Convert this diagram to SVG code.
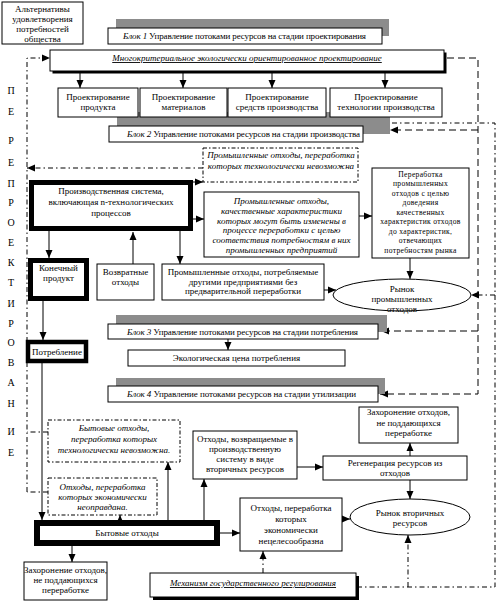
<svg xmlns="http://www.w3.org/2000/svg" width="500" height="601" viewBox="0 0 500 601">
<defs>
<marker id="ah" viewBox="0 0 8 8" refX="8" refY="4" markerWidth="8" markerHeight="8" markerUnits="userSpaceOnUse" orient="auto"><path d="M0,0.5 L8,4 L0,7.5 z" fill="#000"/></marker>
</defs>
<style>
text{font-family:"Liberation Serif","Times New Roman",serif;font-size:9px;fill:#000}
.c{text-anchor:middle}
.i{font-style:italic}
.u{text-decoration:underline}
.b{fill:#fff;stroke:#000;stroke-width:1}
.tk{fill:#fff;stroke:#000}
.sh{fill:#8c8c8c}
.ds{fill:#fff;stroke:#000;stroke-width:1;stroke-dasharray:4 2 1.5 2}
.ln{fill:none;stroke:#000;stroke-width:1}
.dd{fill:none;stroke:#000;stroke-width:1;stroke-dasharray:5 3 1.5 3}
.da{fill:none;stroke:#000;stroke-width:1;stroke-dasharray:7 4}
.sm{font-size:7.6px;letter-spacing:0.3px}
.v{font-size:10px;text-anchor:middle}
</style>
<rect width="500" height="601" fill="#fff"/>

<g id="letters">
<text class="v" x="11" y="94">П</text>
<text class="v" x="11" y="115">Е</text>
<text class="v" x="11" y="144">Р</text>
<text class="v" x="11" y="166">Е</text>
<text class="v" x="11" y="187">П</text>
<text class="v" x="11" y="206">Р</text>
<text class="v" x="11" y="226">О</text>
<text class="v" x="11" y="246">Е</text>
<text class="v" x="11" y="266">К</text>
<text class="v" x="11" y="286">Т</text>
<text class="v" x="11" y="307">И</text>
<text class="v" x="11" y="327">Р</text>
<text class="v" x="11" y="346">О</text>
<text class="v" x="11" y="366">В</text>
<text class="v" x="11" y="386">А</text>
<text class="v" x="11" y="407">Н</text>
<text class="v" x="11" y="435">И</text>
<text class="v" x="11" y="456">Е</text>
</g>

<g id="block2-shadow"><rect class="sh" x="117" y="112" width="273" height="22"/></g>

<g id="connectors">
<path class="ln" d="M80,73 V88" marker-end="url(#ah)"/>
<path class="ln" d="M183,73 V88" marker-end="url(#ah)"/>
<path class="ln" d="M272,73 V88" marker-end="url(#ah)"/>
<path class="ln" d="M385,73 V88" marker-end="url(#ah)"/>
<path class="ln" d="M49,231 V258" marker-end="url(#ah)"/>
<path class="ln" d="M180,231 V264" marker-end="url(#ah)"/>
<path class="ln" d="M133,264 V232" marker-end="url(#ah)"/>
<path class="ln" d="M193,219 H204" marker-end="url(#ah)"/>
<path class="ln" d="M193,182 H203" marker-end="url(#ah)"/>
<path class="ln" d="M359,216 H372" marker-end="url(#ah)"/>
<path class="ln" d="M410,258 V279" marker-end="url(#ah)"/>
<path class="ln" d="M324,290 H336" marker-end="url(#ah)"/>
<path class="ln" d="M228,339 V350" marker-end="url(#ah)"/>
<path class="ln" d="M43,301 V340" marker-end="url(#ah)"/>
<path class="ln" d="M42,363 V520" marker-end="url(#ah)"/>
<path class="ln" d="M120,520 V515" marker-end="url(#ah)"/>
<path class="ln" d="M168,520 V462" marker-end="url(#ah)"/>
<path class="ln" d="M204,520 V479" marker-end="url(#ah)"/>
<path class="ln" d="M220,533 H240" marker-end="url(#ah)"/>
<path class="ln" d="M72,546 V562" marker-end="url(#ah)"/>
<path class="ln" d="M297,467 H323" marker-end="url(#ah)"/>
<path class="ln" d="M410,456 V443" marker-end="url(#ah)"/>
<path class="ln" d="M410,480 V499" marker-end="url(#ah)"/>
<path class="ln" d="M342,519 H350" marker-end="url(#ah)"/>
<path class="dd" d="M27,492 V58 H50" marker-end="url(#ah)"/>
<path class="dd" d="M203,168 H27" marker-end="url(#ah)"/>
<path class="dd" d="M48,432 H27"/>
<path class="dd" d="M48,492 H27"/>
<path class="da" d="M447,58 H478 V394 H380" marker-end="url(#ah)"/>
<path class="da" d="M478,130 H390" marker-end="url(#ah)"/>
<path class="da" d="M478,331 H381" marker-end="url(#ah)"/>
<path class="dd" d="M392,123 H495 V587 H359"/>
<path class="dd" d="M495,295 H471" marker-end="url(#ah)"/>
<path class="dd" d="M408,587 V535" marker-end="url(#ah)"/>
<path class="dd" d="M263,573 V551" marker-end="url(#ah)"/>
</g>

<g id="n-alt">
<rect class="b" x="2" y="2" width="81" height="42"/>
<text class="c" x="42.5" y="12">Альтернативы</text>
<text class="c" x="42.5" y="22">удовлетворения</text>
<text class="c" x="42.5" y="32">потребностей</text>
<text class="c" x="42.5" y="42">общества</text>
</g>

<g id="n-block1">
<rect class="sh" x="116" y="19" width="273" height="17"/>
<rect class="b" x="108" y="28" width="274" height="16"/>
<text x="123" y="39" textLength="243"><tspan class="i">Блок 1</tspan> Управление потоками ресурсов на стадии проектирования</text>
</g>

<g id="n-multi">
<rect x="52.5" y="52.5" width="394" height="21" fill="#000"/>
<rect class="b" x="50" y="50" width="394" height="21"/>
<text class="c i u" x="247" y="61">Многокритериальное экологически ориентированное проектирование</text>
</g>

<g id="n-p1">
<rect class="b" x="58" y="88" width="80" height="29"/>
<text class="c" x="98" y="100">Проектирование</text>
<text class="c" x="98" y="110">продукта</text>
</g>
<g id="n-p2">
<rect class="b" x="140" y="88" width="87" height="29"/>
<text class="c" x="183.5" y="100">Проектирование</text>
<text class="c" x="183.5" y="110">материалов</text>
</g>
<g id="n-p3">
<rect class="b" x="228" y="88" width="98" height="29"/>
<text class="c" x="277" y="100">Проектирование</text>
<text class="c" x="277" y="110">средств производства</text>
</g>
<g id="n-p4">
<rect class="b" x="330" y="88" width="112" height="29"/>
<text class="c" x="386" y="100">Проектирование</text>
<text class="c" x="386" y="110">технологии производства</text>
</g>

<g id="n-block2">
<rect class="b" x="109" y="126" width="254" height="16"/>
<text x="127" y="137" textLength="233"><tspan class="i">Блок 2</tspan> Управление потоками ресурсов на стадии производства</text>
</g>

<g id="n-ind-impossible">
<rect class="ds" x="203" y="148" width="155" height="34"/>
<text class="c i" x="281" y="158">Промышленные отходы, переработка</text>
<text class="c i" x="281" y="169">которых технологически невозможна</text>
</g>

<g id="n-prod-system">
<rect class="tk" x="31.5" y="182.5" width="159" height="46" stroke-width="5"/>
<text class="c" x="111" y="194">Производственная система,</text>
<text class="c" x="111" y="205">включающая n-технологических</text>
<text class="c" x="111" y="216">процессов</text>
</g>

<g id="n-ind-quality">
<rect class="b" x="204" y="192" width="155" height="65"/>
<text class="c i" x="281.5" y="204">Промышленные отходы,</text>
<text class="c i" x="281.5" y="214">качественные характеристики</text>
<text class="c i" x="281.5" y="223.5">которых могут быть изменены в</text>
<text class="c i" x="281.5" y="233">процессе переработки с целью</text>
<text class="c i" x="281.5" y="243">соответствия потребностям в них</text>
<text class="c i" x="281.5" y="252.5">промышленных предприятий</text>
</g>

<g id="n-processing">
<rect class="b" x="372" y="168" width="97" height="90"/>
<text class="c sm" x="420.5" y="176.5">Переработка</text>
<text class="c sm" x="420.5" y="186">промышленных</text>
<text class="c sm" x="420.5" y="195.5">отходов с целью</text>
<text class="c sm" x="420.5" y="205">доведения</text>
<text class="c sm" x="420.5" y="214.5">качественных</text>
<text class="c sm" x="420.5" y="224">характеристик отходов</text>
<text class="c sm" x="420.5" y="233.5">до характеристик,</text>
<text class="c sm" x="420.5" y="243">отвечающих</text>
<text class="c sm" x="420.5" y="252.5">потребностям рынка</text>
</g>

<g id="n-final-product">
<rect class="tk" x="30.5" y="260.5" width="56" height="38" stroke-width="5"/>
<text class="c" x="58.5" y="271">Конечный</text>
<text class="c" x="58.5" y="281">продукт</text>
</g>

<g id="n-return">
<rect class="b" x="97" y="264" width="57" height="36"/>
<text class="c" x="125.5" y="275">Возвратные</text>
<text class="c" x="125.5" y="285">отходы</text>
</g>

<g id="n-ind-direct">
<rect class="b" x="162" y="264" width="162" height="36"/>
<text class="c" x="243" y="275">Промышленные отходы, потребляемые</text>
<text class="c" x="243" y="285">другими предприятиями без</text>
<text class="c" x="243" y="294">предварительной переработки</text>
</g>

<g id="n-market-ind">
<ellipse class="b" cx="402" cy="295" rx="69" ry="16"/>
<text class="c" x="402" y="292">Рынок</text>
<text class="c" x="402" y="302">промышленных</text>
<text class="c" x="402" y="312">отходов</text>
</g>

<g id="n-block3">
<rect class="sh" x="116" y="315" width="271" height="17"/>
<rect class="b" x="108" y="324" width="270" height="15"/>
<text x="127" y="334.5" textLength="231"><tspan class="i">Блок 3</tspan> Управление потоками ресурсов на стадии потребления</text>
</g>

<g id="n-eco-price">
<rect class="b" x="128" y="350" width="217" height="16"/>
<text class="c" x="236.5" y="361">Экологическая цена потребления</text>
</g>

<g id="n-consumption">
<rect class="tk" x="28" y="342" width="58" height="19" stroke-width="4.5"/>
<text class="c" x="57" y="355">Потребление</text>
</g>

<g id="n-block4">
<rect class="sh" x="116" y="378" width="269" height="16"/>
<rect class="b" x="108" y="386" width="270" height="16"/>
<text x="127" y="397" textLength="229"><tspan class="i">Блок 4</tspan> Управление потоками ресурсов на стадии утилизации</text>
</g>

<g id="n-hh-impossible">
<rect class="ds" x="48" y="420" width="132" height="42"/>
<text class="c i" x="114" y="431">Бытовые отходы,</text>
<text class="c i" x="114" y="442">переработка которых</text>
<text class="c i" x="114" y="453">технологически невозможна.</text>
</g>

<g id="n-hh-unjustified">
<rect class="ds" x="48" y="478" width="109" height="37"/>
<text class="c i" x="102.5" y="490">Отходы, переработка</text>
<text class="c i" x="102.5" y="500">которых экономически</text>
<text class="c i" x="102.5" y="510">неоправдана.</text>
</g>

<g id="n-returned">
<rect class="b" x="193" y="431" width="104" height="48"/>
<text class="c" x="245" y="442">Отходы, возвращаемые в</text>
<text class="c" x="245" y="452">производственную</text>
<text class="c" x="245" y="462">систему в виде</text>
<text class="c" x="245" y="472">вторичных ресурсов</text>
</g>

<g id="n-burial-right">
<rect class="b" x="359" y="407" width="99" height="36"/>
<text class="c" x="408.5" y="415">Захоронение отходов,</text>
<text class="c" x="408.5" y="426">не поддающихся</text>
<text class="c" x="408.5" y="436">переработке</text>
</g>

<g id="n-regeneration">
<rect class="b" x="323" y="456" width="144" height="24"/>
<text class="c" x="395" y="466">Регенерация ресурсов из</text>
<text class="c" x="395" y="476">отходов</text>
</g>

<g id="n-household">
<rect class="tk" x="37" y="523" width="180" height="20" stroke-width="6"/>
<text class="c" x="127" y="536">Бытовые отходы</text>
</g>

<g id="n-uneconomic">
<rect class="b" x="240" y="498" width="102" height="53"/>
<text class="c" x="291" y="511">Отходы, переработка</text>
<text class="c" x="291" y="522">которых</text>
<text class="c" x="291" y="533">экономически</text>
<text class="c" x="291" y="544">нецелесообразна</text>
</g>

<g id="n-market-sec">
<ellipse class="b" cx="410" cy="517" rx="60" ry="18"/>
<text class="c" x="410" y="516">Рынок вторичных</text>
<text class="c" x="410" y="526">ресурсов</text>
</g>

<g id="n-burial-left">
<rect class="b" x="24" y="562" width="83" height="38"/>
<text class="c" x="65.5" y="573">Захоронение отходов,</text>
<text class="c" x="65.5" y="583">не поддающихся</text>
<text class="c" x="65.5" y="593">переработке</text>
</g>

<g id="n-state">
<rect x="153" y="576" width="206" height="24" fill="#000"/>
<rect class="b" x="150" y="573" width="206" height="24"/>
<text class="c i u" x="253" y="586">Механизм государственного регулирования</text>
</g>
</svg>
